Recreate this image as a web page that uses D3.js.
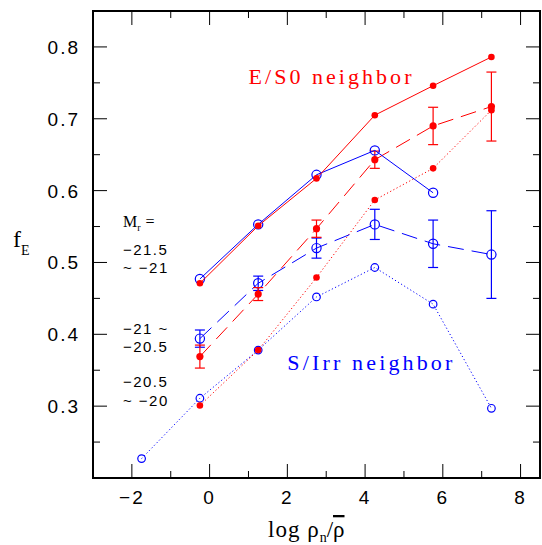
<!DOCTYPE html>
<html>
<head>
<meta charset="utf-8">
<script src="https://cdn.jsdelivr.net/npm/d3@7"></script>
<style>
  body { margin: 0; background: #fff; }
  svg { display: block; }
</style>
</head>
<body>
<div id="chart"></div>
<script>
"use strict";

// abscisses des bins (log rho_n / rho moyen)
var xBins = [-0.25, 1.25, 2.75, 4.25, 5.75, 7.25];
var xBinsFaint = [-1.75, -0.25, 1.25, 2.75, 4.25, 5.75, 7.25];

// voisin E/S0 (rouge)
var redBright = [0.471, 0.551, 0.617, 0.705, 0.746, 0.786];
var redMid = [0.369, 0.456, 0.547, 0.643, 0.690, 0.717];
var redMidErr = [0.016, 0.009, 0.012, 0.012, 0.026, 0.048];
var redFaint = [0.301, 0.378, 0.479, 0.587, 0.631, 0.712];

// voisin S/Irr (bleu)
var blueBright = [0.477, 0.553, 0.622, 0.656, 0.597];
var blueMid = [0.394, 0.471, 0.520, 0.553, 0.526, 0.511];
var blueMidErr = [0.012, 0.010, 0.014, 0.021, 0.033, 0.061];
var blueFaint = [0.227, 0.311, 0.378, 0.452, 0.493, 0.442, 0.297];

var xTicks = [-2, 0, 2, 4, 6, 8];
var yTicks = [0.3, 0.4, 0.5, 0.6, 0.7, 0.8];

var larg = 542, haut = 545;
var margin = {top: 11, right: 2, bottom: 67, left: 93};
var w = larg - margin.left - margin.right;
var h = haut - margin.top - margin.bottom;

var svg = d3.select("#chart").append("svg")
  .attr("width", larg)
  .attr("height", haut);

var g = svg.append("g")
  .attr("transform", "translate(" + margin.left + "," + margin.top + ")");

var x = d3.scaleLinear().domain([-3, 8.5]).range([0, w]);
var y = d3.scaleLinear().domain([0.2, 0.85]).range([h, 0]);

var sansFont = "'Liberation Sans', sans-serif";
var serifFont = "'Liberation Serif', serif";

// cadre
g.append("rect")
  .attr("width", w).attr("height", h)
  .attr("fill", "none").attr("stroke", "#000").attr("stroke-width", 2);

// graduations (vers l'intérieur, sur les 4 côtés)
var xMinor = d3.range(-2, 9, 1);
var yMinor = d3.range(0.25, 0.851, 0.05);
function tickLen(isMajor) { return isMajor ? 14 : 7; }

xMinor.forEach(function(v) {
  var major = (v % 2 === 0);
  var px = x(v);
  g.append("line").attr("x1", px).attr("x2", px).attr("y1", h).attr("y2", h - tickLen(major))
    .attr("stroke", "#000").attr("stroke-width", 1);
  g.append("line").attr("x1", px).attr("x2", px).attr("y1", 0).attr("y2", tickLen(major))
    .attr("stroke", "#000").attr("stroke-width", 1);
});
yMinor.forEach(function(v) {
  var major = Math.abs(Math.round(v * 10) - v * 10) < 1e-6;
  var py = y(v);
  g.append("line").attr("x1", 0).attr("x2", tickLen(major)).attr("y1", py).attr("y2", py)
    .attr("stroke", "#000").attr("stroke-width", 1);
  g.append("line").attr("x1", w).attr("x2", w - tickLen(major)).attr("y1", py).attr("y2", py)
    .attr("stroke", "#000").attr("stroke-width", 1);
});

// étiquettes des axes
g.selectAll(".xlab").data(xTicks).enter().append("text")
  .attr("x", function(d) { return x(d); })
  .attr("y", h + 26)
  .attr("text-anchor", "middle")
  .attr("font-family", sansFont).attr("font-size", "19px")
  .attr("letter-spacing", "2px")
  .text(function(d) { return d < 0 ? "\u2212" + Math.abs(d) : d; });

g.selectAll(".ylab").data(yTicks).enter().append("text")
  .attr("x", -13)
  .attr("y", function(d) { return y(d) + 7; })
  .attr("text-anchor", "end")
  .attr("font-family", sansFont).attr("font-size", "19px")
  .attr("letter-spacing", "2px")
  .text(function(d) { return d.toFixed(1); });

// titre axe y : f_E
var fE = svg.append("text")
  .attr("x", 13).attr("y", 247)
  .attr("font-family", serifFont).attr("font-size", "24px");
fE.append("tspan").text("f");
fE.append("tspan").attr("dy", 8).attr("font-size", "14px").text("E");

// titre axe x : log rho_n / rho barre
var xt = svg.append("text")
  .attr("x", 268).attr("y", 537)
  .attr("font-family", serifFont).attr("font-size", "23px");
xt.append("tspan").attr("letter-spacing", "1px").text("log  \u03c1");
xt.append("tspan").attr("dy", 5).attr("font-size", "14px").text("n");
xt.append("tspan").attr("dy", -5).text("/");
xt.append("tspan").attr("text-decoration", "overline").text("\u03c1");

// tracés
var line = d3.line()
  .x(function(d) { return x(d[0]); })
  .y(function(d) { return y(d[1]); });

function drawSeries(xs, ys, errs, color, dash, filled, rad) {
  var pts = ys.map(function(v, i) { return [xs[i], v]; });
  g.append("path").datum(pts)
    .attr("d", line)
    .attr("fill", "none")
    .attr("stroke", color)
    .attr("stroke-width", 1)
    .attr("stroke-dasharray", dash);
  if (errs) {
    pts.forEach(function(p, i) {
      var px = x(p[0]), y1 = y(p[1] - errs[i]), y2 = y(p[1] + errs[i]);
      g.append("line").attr("x1", px).attr("x2", px).attr("y1", y1).attr("y2", y2)
        .attr("stroke", color).attr("stroke-width", 1.2);
      [y1, y2].forEach(function(yy) {
        g.append("line").attr("x1", px - 5).attr("x2", px + 5).attr("y1", yy).attr("y2", yy)
          .attr("stroke", color).attr("stroke-width", 1.2);
      });
    });
  }
  g.selectAll(null).data(pts).enter().append("circle")
    .attr("cx", function(d) { return x(d[0]); })
    .attr("cy", function(d) { return y(d[1]); })
    .attr("r", rad)
    .attr("fill", filled ? color : "none")
    .attr("stroke", color)
    .attr("stroke-width", filled ? 0 : 1.2);
}

var red = "#ff0000", blue = "#0000ff";
drawSeries(xBinsFaint, blueFaint, null, blue, "1.2,2.4", false, 3.8);
drawSeries(xBins, redFaint, null, red, "1.2,2.4", true, 3.3);
drawSeries(xBins, blueMid, blueMidErr, blue, "16,8", false, 4.6);
drawSeries(xBins, redMid, redMidErr, red, "16,8", true, 3.6);
drawSeries(xBins.slice(0, blueBright.length), blueBright, null, blue, null, false, 4.6);
drawSeries(xBins, redBright, null, red, null, true, 3.3);

// annotations
g.append("text")
  .attr("x", x(1.0)).attr("y", y(0.748))
  .attr("fill", red)
  .attr("font-family", serifFont).attr("font-size", "22px")
  .attr("textLength", 163).attr("lengthAdjust", "spacing")
  .text("E/S0 neighbor");
g.append("text")
  .attr("x", x(2.0)).attr("y", y(0.35))
  .attr("fill", blue)
  .attr("font-family", serifFont).attr("font-size", "22px")
  .attr("textLength", 165).attr("lengthAdjust", "spacing")
  .text("S/Irr neighbor");

var mr = g.append("text")
  .attr("x", x(-2.23)).attr("y", y(0.55))
  .attr("font-family", serifFont).attr("font-size", "16px");
mr.append("tspan").text("M");
mr.append("tspan").attr("dy", 4).attr("font-size", "10px").text("r");
mr.append("tspan").attr("dy", -4).attr("letter-spacing", "1px").text("  =");

var magLabels = [
  ["\u221221.5", 0.511],
  ["~ \u221221", 0.486],
  ["\u221221 ~", 0.400],
  ["\u221220.5", 0.375],
  ["\u221220.5", 0.326],
  ["~ \u221220", 0.300]
];
g.selectAll(".mag").data(magLabels).enter().append("text")
  .attr("x", x(-2.23))
  .attr("y", function(d) { return y(d[1]); })
  .attr("font-family", sansFont).attr("font-size", "15px")
  .attr("letter-spacing", "1.5px")
  .text(function(d) { return d[0]; });
</script>
</body>
</html>
